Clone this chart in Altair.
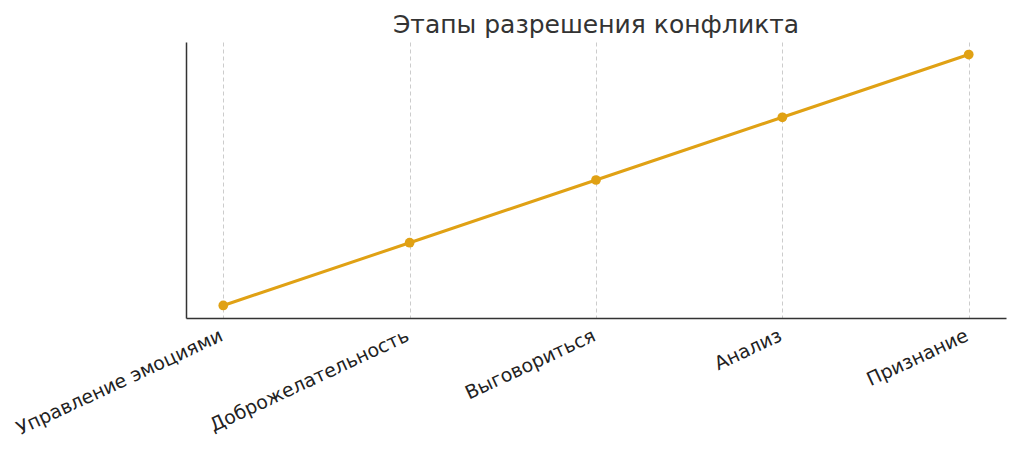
import altair as alt
import pandas as pd

stages = ["Управление эмоциями", "Доброжелательность", "Выговориться", "Анализ", "Признание"]
levels = [1, 2, 3, 4, 5]

df = pd.DataFrame({"stage": stages, "level": levels})

FONT = "DejaVu Sans"
COLOR = "#E0A114"

x_enc = alt.X(
    "stage:N",
    sort=None,
    scale=alt.Scale(type="point", padding=0.2),
    axis=alt.Axis(
        title=None,
        labelAngle=-25,
        labelAlign="right",
        labelBaseline="top",
        labelFontSize=19,
        labelFont=FONT,
        labelColor="#222222",
        labelPadding=8,
        labelOffset=-6,
        labelLimit=0,
        ticks=False,
        domainColor="#333333",
        domainWidth=1.5,
        grid=True,
        gridDash=[4, 3],
        gridColor="#cccccc",
        gridWidth=1,
    ),
)
y_enc = alt.Y(
    "level:Q",
    scale=alt.Scale(domain=[0.8, 5.2], nice=False, zero=False),
    axis=alt.Axis(
        title=None,
        labels=False,
        ticks=False,
        grid=False,
        domainColor="#333333",
        domainWidth=1.5,
    ),
)

base = alt.Chart(df).encode(x=x_enc, y=y_enc)
line = base.mark_line(color=COLOR, strokeWidth=3)
pts = base.mark_point(filled=True, color=COLOR, size=95, opacity=1)

chart = (
    alt.layer(line, pts, view=alt.ViewBackground(strokeOpacity=0, strokeWidth=0))
    .properties(
        width=820,
        height=276,
        title=alt.TitleParams(
            "Этапы разрешения конфликта",
            font=FONT,
            fontSize=25,
            fontWeight="normal",
            color="#333333",
            anchor="middle",
            offset=4,
        ),
        autosize=alt.AutoSizeParams(type="none"),
        padding={"left": 178, "top": 34, "right": 10, "bottom": 120},
    )
    .configure_view(strokeWidth=0, strokeOpacity=0)
    .configure(background="white")
)

chart.save("out.html", embed_options={"renderer": "svg", "actions": False})
